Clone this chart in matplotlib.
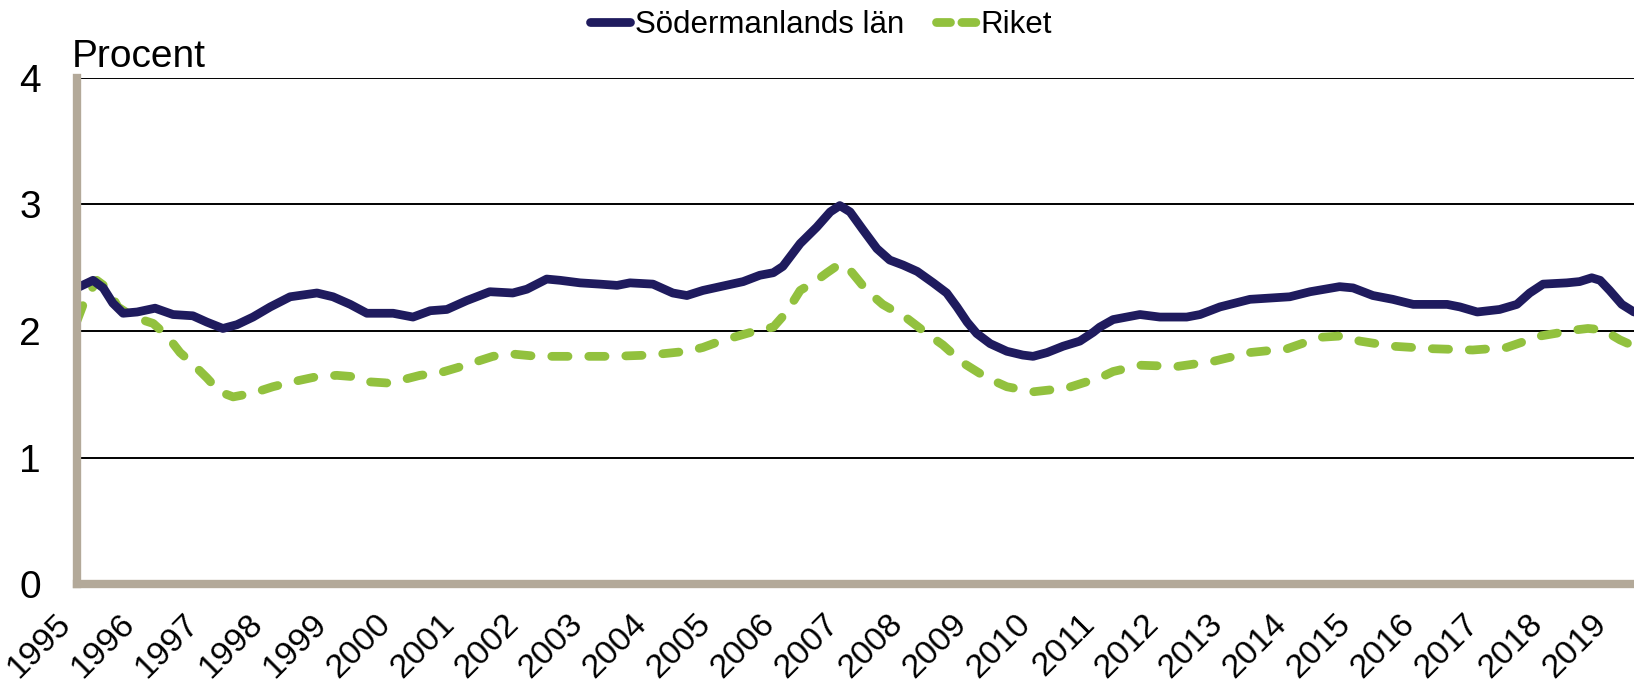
import matplotlib
matplotlib.use("Agg")
import matplotlib.pyplot as plt
import matplotlib.transforms as mtransforms
from matplotlib.lines import Line2D

# ---------------- data ----------------
sod_years = [1995.0, 1995.25, 1995.41, 1995.56, 1995.72, 1995.94, 1996.22, 1996.5, 1996.81,
             1997.03, 1997.28, 1997.5, 1997.75, 1998.02, 1998.33, 1998.75, 1999.0, 1999.27,
             1999.53, 1999.94, 2000.25, 2000.52, 2000.78, 2001.09, 2001.45, 2001.81, 2002.03,
             2002.34, 2002.55, 2002.86, 2003.17, 2003.44, 2003.64, 2004.0, 2004.31, 2004.53,
             2004.78, 2005.05, 2005.41, 2005.67, 2005.88, 2006.03, 2006.30, 2006.56, 2006.77,
             2006.92, 2007.08, 2007.28, 2007.5, 2007.70, 2007.91, 2008.13, 2008.38, 2008.59,
             2008.75, 2008.91, 2009.06, 2009.27, 2009.53, 2009.78, 2009.94, 2010.16, 2010.41,
             2010.67, 2010.88, 2010.98, 2011.19, 2011.61, 2011.92, 2012.34, 2012.55, 2012.86,
             2013.33, 2013.95, 2014.27, 2014.73, 2014.94, 2015.25, 2015.56, 2015.88, 2016.41,
             2016.61, 2016.88, 2017.23, 2017.5, 2017.7, 2017.91, 2018.28, 2018.48, 2018.67,
             2018.8, 2018.95, 2019.14, 2019.33]
sod_values = [2.34, 2.40, 2.34, 2.22, 2.14, 2.15, 2.18, 2.13, 2.12,
              2.07, 2.02, 2.05, 2.11, 2.19, 2.27, 2.30, 2.27, 2.21,
              2.14, 2.14, 2.11, 2.16, 2.17, 2.24, 2.31, 2.30, 2.33,
              2.41, 2.40, 2.38, 2.37, 2.36, 2.38, 2.37, 2.30, 2.28,
              2.32, 2.35, 2.39, 2.44, 2.46, 2.51, 2.69, 2.82, 2.94,
              2.99, 2.94, 2.80, 2.65, 2.56, 2.52, 2.47, 2.38, 2.30,
              2.19, 2.07, 1.98, 1.90, 1.84, 1.81, 1.80, 1.83, 1.88,
              1.92, 1.99, 2.03, 2.09, 2.13, 2.11, 2.11, 2.13, 2.19,
              2.25, 2.27, 2.31, 2.35, 2.34, 2.28, 2.25, 2.21, 2.21,
              2.19, 2.15, 2.17, 2.21, 2.30, 2.37, 2.38, 2.39, 2.42,
              2.40, 2.32, 2.21, 2.15]

riket_years = [1995.0, 1995.12, 1995.31, 1995.47, 1995.64, 1995.88, 1996.19, 1996.41, 1996.61,
               1996.81, 1997.03, 1997.23, 1997.44, 1997.75, 1998.06, 1998.38, 1998.75, 1999.06,
               1999.31, 1999.53, 1999.84, 2000.05, 2000.36, 2000.67, 2000.94, 2001.19, 2001.5,
               2001.77, 2002.19, 2002.81, 2003.38, 2003.95, 2004.53, 2004.78, 2005.05, 2005.67,
               2005.88, 2006.09, 2006.30, 2006.56, 2006.72, 2006.92, 2007.08, 2007.34, 2007.59,
               2007.97, 2008.28, 2008.53, 2008.84, 2009.22, 2009.53, 2009.94, 2010.47, 2010.72,
               2010.98, 2011.19, 2011.61, 2012.19, 2012.75, 2013.33, 2013.91, 2014.42, 2014.73,
               2015.05, 2015.56, 2016.19, 2016.81, 2017.34, 2017.86, 2018.44, 2018.61, 2018.84,
               2019.11, 2019.33]
riket_values = [2.08, 2.24, 2.40, 2.34, 2.19, 2.11, 2.06, 1.96, 1.83,
                1.74, 1.63, 1.52, 1.48, 1.51, 1.56, 1.60, 1.64, 1.65,
                1.64, 1.60, 1.59, 1.61, 1.65, 1.67, 1.71, 1.75, 1.80,
                1.82, 1.80, 1.80, 1.80, 1.81, 1.84, 1.87, 1.92, 2.01,
                2.03, 2.15, 2.32, 2.40, 2.46, 2.53, 2.48, 2.32, 2.21,
                2.10, 1.98, 1.89, 1.75, 1.63, 1.56, 1.52, 1.55, 1.59,
                1.63, 1.68, 1.73, 1.72, 1.76, 1.83, 1.86, 1.95, 1.96,
                1.92, 1.88, 1.86, 1.85, 1.87, 1.96, 2.01, 2.02, 2.01,
                1.93, 1.88]

tick_years = list(range(1995, 2020))
y_ticks = [0, 1, 2, 3, 4]
series_names = ["Södermanlands län", "Riket"]

# ---------------- style ----------------
NAVY = "#1F1B5E"
GREEN = "#92C13E"
SPINE = "#B3A999"
LW = 6.3

REG = ["Liberation Sans", "DejaVu Sans"]
plt.rcParams["font.family"] = REG

fig = plt.figure(figsize=(16.34, 6.96), dpi=100)
ax = fig.add_axes([77 / 1634, 1 - 584.4 / 696, 1 - 77 / 1634, (584.4 - 77.6) / 696])

for y in [1, 2, 3, 4]:
    ax.axhline(y, color="black", lw=1.4, zorder=1)

ax.plot(sod_years, sod_values, color=NAVY, lw=LW, solid_joinstyle="round",
        solid_capstyle="round", zorder=3)
ax.plot(riket_years, riket_values, color=GREEN, lw=LW, dashes=(1.86, 2.37),
        dash_capstyle="round", dash_joinstyle="round", zorder=2)

ax.set_xlim(1995, 2019.33)
ax.set_ylim(0, 4)
ax.set_xticks(tick_years)
ax.set_xticklabels([str(t) for t in tick_years], rotation=45, ha="right", fontsize=24.5)
offset = mtransforms.ScaledTranslation(6 / 100, 0, fig.dpi_scale_trans)
for lbl in ax.get_xticklabels():
    lbl.set_transform(lbl.get_transform() + offset)
ax.set_yticks(y_ticks)
ax.set_yticklabels([str(t) for t in y_ticks], fontsize=28)
ax.tick_params(axis="x", length=0, pad=17)
ax.tick_params(axis="y", length=0, pad=26)

for s in ["top", "right"]:
    ax.spines[s].set_visible(False)
for s in ["left", "bottom"]:
    ax.spines[s].set_color(SPINE)
    ax.spines[s].set_linewidth(6)
    ax.spines[s].set_zorder(4)
ax.spines["left"].set_capstyle("projecting")

fig.text(72 / 1634, 1 - 67 / 696, "Procent", fontsize=28, ha="left", va="baseline")

handles = [Line2D([0], [0], color=NAVY, lw=LW, solid_capstyle="round"),
           Line2D([0], [0], color=GREEN, lw=LW, dashes=(1.6, 1.3), dash_capstyle="round")]
leg = fig.legend(handles, series_names, loc="center", bbox_to_anchor=(821 / 1634, 1 - 25 / 696),
                 ncol=2, frameon=False, handlelength=1.3, handletextpad=0.15,
                 columnspacing=1.0, borderaxespad=0, borderpad=0,
                 prop={"size": 22.5})

fig.savefig("out.png", dpi=100)
